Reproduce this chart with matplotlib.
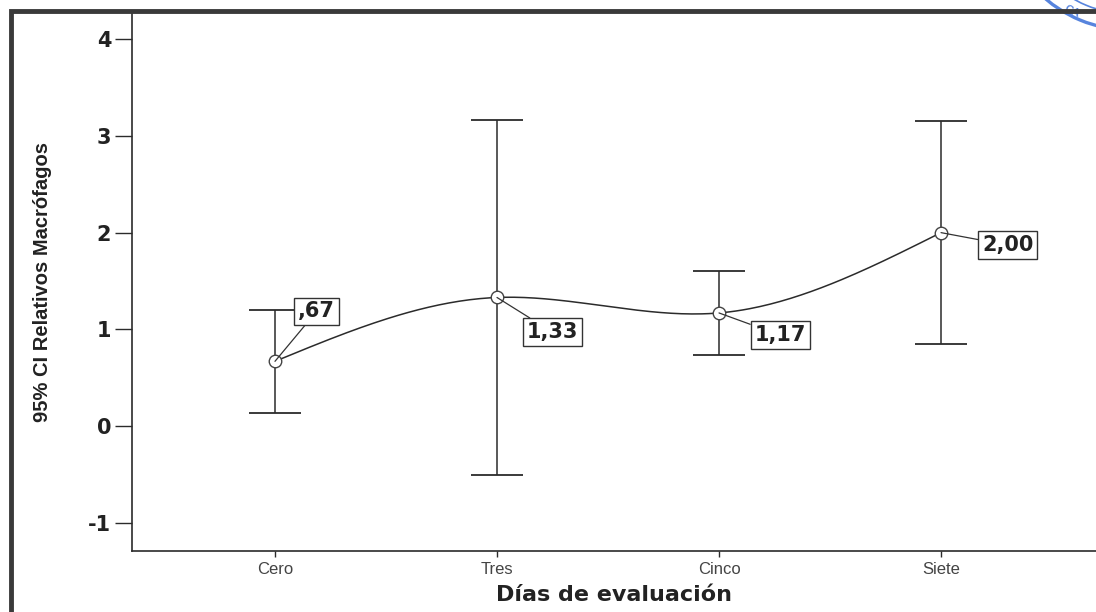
import numpy as np
import matplotlib
matplotlib.use("Agg")
import matplotlib.pyplot as plt
from matplotlib.patches import Rectangle, Arc

# Días de evaluación y medias con IC 95%
dias = ["Cero", "Tres", "Cinco", "Siete"]
medias = [0.67, 1.33, 1.17, 2.00]
ic_inf = [0.14, -0.50, 0.74, 0.85]
ic_sup = [1.20, 3.16, 1.60, 3.15]
etiquetas = [",67", "1,33", "1,17", "2,00"]
yticks = [-1, 0, 1, 2, 3, 4]


def spline_natural(x, y, n=200):
    """Curva cúbica natural que pasa por los puntos (x, y)."""
    x = np.asarray(x, float)
    y = np.asarray(y, float)
    k = len(x)
    h = np.diff(x)
    A = np.zeros((k, k))
    b = np.zeros(k)
    A[0, 0] = A[-1, -1] = 1.0
    for i in range(1, k - 1):
        A[i, i - 1] = h[i - 1]
        A[i, i] = 2 * (h[i - 1] + h[i])
        A[i, i + 1] = h[i]
        b[i] = 3 * ((y[i + 1] - y[i]) / h[i] - (y[i] - y[i - 1]) / h[i - 1])
    c = np.linalg.solve(A, b)
    xs, ys = [], []
    for i in range(k - 1):
        bi = (y[i + 1] - y[i]) / h[i] - h[i] * (2 * c[i] + c[i + 1]) / 3
        di = (c[i + 1] - c[i]) / (3 * h[i])
        t = np.linspace(0, h[i], n // (k - 1))
        xs.append(x[i] + t)
        ys.append(y[i] + bi * t + c[i] * t ** 2 + di * t ** 3)
    return np.concatenate(xs), np.concatenate(ys)


plt.rcParams["font.family"] = ["Liberation Sans", "DejaVu Sans"]
BOLD_WIDE = ["DejaVu Sans"]

fig = plt.figure(figsize=(10.96, 6.12), dpi=100)
ax = fig.add_axes([132 / 1096, 1 - 551 / 612, 1 - 132 / 1096, (551 - 12) / 612])

x = np.arange(len(dias))
col = "#2b2b2b"

# Intervalos de confianza
ax.errorbar(x, medias,
            yerr=[np.array(medias) - np.array(ic_inf), np.array(ic_sup) - np.array(medias)],
            fmt="none", ecolor=col, elinewidth=1.1, capsize=19, capthick=1.3, zorder=2)

# Línea suavizada entre medias
xs, ys = spline_natural(x, medias)
ax.plot(xs, ys, color=col, lw=1.1, zorder=3)
ax.plot(x, medias, "o", ms=9, mfc="white", mec="#444444", mew=1.0, zorder=4)

# Etiquetas de valor
offsets = [(30, 36), (40, -25), (44, -16), (48, -9)]
for xi, m, lab, off in zip(x, medias, etiquetas, offsets):
    ax.annotate(lab, xy=(xi, m), xytext=off, textcoords="offset points",
                ha="center", va="center", fontsize=15, fontweight="bold",
                family=BOLD_WIDE, color="#222222",
                bbox=dict(boxstyle="square,pad=0.18", fc="white", ec="#333333", lw=1.0),
                arrowprops=dict(arrowstyle="-", color="#333333", lw=0.9,
                                shrinkA=0, shrinkB=0),
                zorder=5)

ax.set_xlim(-0.644, 3.698)
ax.set_ylim(-1.29, 4.28)
ax.set_xticks(x)
ax.set_xticklabels(dias, fontsize=12, color="#444444")
ax.set_yticks(yticks)
ax.set_yticklabels([str(v) for v in yticks], fontsize=15, fontweight="bold",
                   family=BOLD_WIDE, color="#222222")
ax.tick_params(axis="y", length=12, width=1.0, color=col, pad=3)
ax.tick_params(axis="x", length=4, width=1.0, color=col, pad=4)

for s in ["top", "right"]:
    ax.spines[s].set_visible(False)
for s in ["left", "bottom"]:
    ax.spines[s].set_color(col)
    ax.spines[s].set_linewidth(1.2)

ax.set_ylabel("95% CI Relativos Macrófagos", fontsize=14.5, fontweight="bold",
              color="#222222", labelpad=26)
ax.set_xlabel("Días de evaluación", fontsize=16, fontweight="bold",
              family=BOLD_WIDE, color="#222222", labelpad=6)

# Marco exterior
fig.patches.append(Rectangle((11 / 1096, -0.1), 1.2, 1.1 - 12 / 612 + 0.002,
                             transform=fig.transFigure, fill=False,
                             ec="#3a3a3a", lw=3.5, zorder=0))

# Sello azul en la esquina superior derecha
sello = fig.add_axes([0, 0, 1, 1], facecolor="none")
sello.set_xlim(0, 1096)
sello.set_ylim(612, 0)
sello.axis("off")
for r, lw in [(130, 2.4), (114, 1.2)]:
    sello.add_patch(Arc((1130, -100), 2 * r, 2 * r, theta1=0, theta2=360,
                        color="#3a6fd8", lw=lw, alpha=0.85))
sello.text(1072, 12, "CA", color="#3a6fd8", fontsize=8, fontweight="bold",
           rotation=-24, ha="center", va="center", alpha=0.85)

fig.savefig("out.png", dpi=100)
